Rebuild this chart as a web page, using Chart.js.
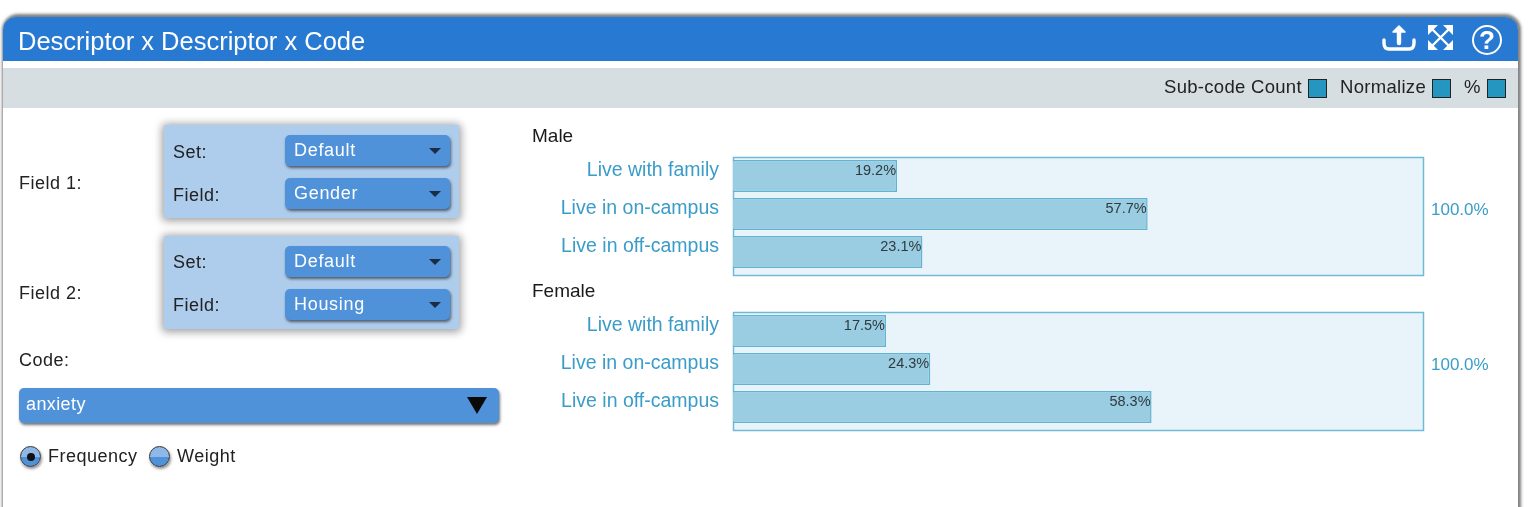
<!DOCTYPE html>
<html><head><meta charset="utf-8">
<script src="https://cdn.jsdelivr.net/npm/chart.js@4"></script>
<style>
html,body{margin:0;padding:0;background:#fff;overflow:hidden}
#page{position:relative;width:1536px;height:507px;overflow:hidden;font-family:"Liberation Sans",Arial,sans-serif;color:#222;filter:blur(.45px)}
#page div,#page span{position:absolute;white-space:nowrap}
#panel{left:3px;top:17px;width:1515px;height:520px;border-radius:14px 14px 0 0;background:#fff;box-shadow:1px -1px 3px 2px rgba(0,0,0,.5)}
#head{left:3px;top:17px;width:1515px;height:44px;background:#2779d2;border-radius:13px 13px 0 0}
#band{left:3px;top:68px;width:1515px;height:40px;background:#d6dee1}
.title{left:18px;top:27px;font-size:25.5px;line-height:29px;color:#fff}
.bar{font-size:18.5px;line-height:20px;color:#222;letter-spacing:.3px}
.cb{width:19px;height:19px;background:#2496bf;border:1.5px solid #222;box-sizing:border-box;top:79px}
.box{left:164px;width:295px;height:93px;background:#aeccec;border-radius:2px;box-shadow:0 1px 8px 2px rgba(0,0,0,.38)}
.dd{left:285px;width:165px;height:31px;background:#4f92da;border-radius:5px;box-shadow:1px 2px 3px rgba(0,0,0,.55);color:#fff;font-size:18px;line-height:31px;text-indent:9px;letter-spacing:.7px}
.tri{width:0;height:0;border-left:6px solid transparent;border-right:6px solid transparent;border-top:6px solid #1c2c44;left:429px}
.lb{font-size:18px;line-height:22px;color:#222;letter-spacing:.5px}
.radio{width:21px;height:21px;border-radius:50%;border:1.5px solid #333;box-sizing:border-box;box-shadow:1px 2px 3px rgba(0,0,0,.45);top:446px}
canvas{display:block}
.cw{left:532px;width:968px;height:150px}
</style></head>
<body>
<div id="page">
  <div id="panel"></div>
  <div id="head"></div>
  <div id="band"></div>
  <div class="title">Descriptor x Descriptor x Code</div>
  <svg style="position:absolute;left:1380px;top:22px" width="125" height="34" viewBox="0 0 125 34">
    <g fill="none" stroke="#fff" stroke-width="3.4" stroke-linecap="round" stroke-linejoin="round">
      <path d="M4 18v3q0 6 5 6h20q5 0 5-6v-3"/>
      <path d="M19 21V8" stroke-width="4.4"/>
      <path d="M13 10l6-6 6 6z" fill="#fff" stroke-width="1.6"/>
      <path d="M52 7l17 17M69 7L52 24" stroke-width="2.4"/>
    </g>
    <g fill="#fff">
      <path d="M48 3h10l-10 10zM73 3h-10l10 10zM48 28h10l-10-10zM73 28h-10l10-10z"/>
    </g>
    <circle cx="107" cy="18" r="14" fill="none" stroke="#fff" stroke-width="2"/>
    <text x="107" y="27" text-anchor="middle" font-family="Liberation Sans" font-weight="700" font-size="26" fill="#fff">?</text>
  </svg>
  <div class="bar" style="left:1164px;top:77px">Sub-code Count</div><div class="cb" style="left:1308px"></div>
  <div class="bar" style="left:1340px;top:77px">Normalize</div><div class="cb" style="left:1432px"></div>
  <div class="bar" style="left:1464px;top:77px">%</div><div class="cb" style="left:1487px"></div>

  <div class="lb" style="left:19px;top:172px">Field 1:</div>
  <div class="box" style="top:125px"></div>
  <div class="lb" style="left:173px;top:141px">Set:</div>
  <div class="lb" style="left:173px;top:184px">Field:</div>
  <div class="dd" style="top:135px">Default</div><div class="tri" style="top:148px"></div>
  <div class="dd" style="top:178px">Gender</div><div class="tri" style="top:191px"></div>

  <div class="lb" style="left:19px;top:282px">Field 2:</div>
  <div class="box" style="top:236px"></div>
  <div class="lb" style="left:173px;top:251px">Set:</div>
  <div class="lb" style="left:173px;top:294px">Field:</div>
  <div class="dd" style="top:246px">Default</div><div class="tri" style="top:259px"></div>
  <div class="dd" style="top:289px">Housing</div><div class="tri" style="top:302px"></div>

  <div class="lb" style="left:19px;top:349px">Code:</div>
  <div class="dd" style="left:19px;top:388px;width:480px;height:35px;line-height:32px;text-indent:7px;letter-spacing:.4px">anxiety</div>
  <div style="left:467px;top:397px;width:0;height:0;border-left:10px solid transparent;border-right:10px solid transparent;border-top:17px solid #0a0a0a"></div>
  <div class="radio" style="left:20px;background:linear-gradient(#8fb8e6 50%,#4f92da 50%)"></div>
  <div style="left:26.5px;top:452.5px;width:8px;height:8px;border-radius:50%;background:#111"></div>
  <div class="lb" style="left:48px;top:445px">Frequency</div>
  <div class="radio" style="left:149px;background:linear-gradient(#8fb8e6 50%,#4f92da 50%)"></div>
  <div class="lb" style="left:177px;top:445px">Weight</div>

  <div class="cw" style="top:127px"><canvas id="male" width="968" height="150"></canvas></div>
  <div class="cw" style="top:282px"><canvas id="female" width="968" height="150"></canvas></div>
</div>
<script>
const categories = ["Live with family", "Live in on-campus", "Live in off-campus"];
const maleValues = [19.2, 57.7, 23.1];
const femaleValues = [17.5, 24.3, 58.3];
const maleTotal = "100.0%";
const femaleTotal = "100.0%";
const axisMin = -6;
const axisMax = 100;

const frame = {
  id: "frame",
  beforeDatasetsDraw(c) {
    const a = c.chartArea, g = c.ctx;
    g.save();
    g.fillStyle = "#e8f4fa";
    g.strokeStyle = "#6fbad8";
    g.lineWidth = 1.5;
    g.beginPath();
    g.rect(a.left + 0.5, a.top + 0.5, a.right - a.left, a.bottom - a.top + 4);
    g.fill();
    g.stroke();
    g.restore();
  },
  afterDatasetsDraw(c, args, o) {
    const g = c.ctx, x = c.scales.x, y = c.scales.y, vals = c.data.datasets[0].data;
    g.save();
    g.font = "14.5px 'Liberation Sans'";
    g.fillStyle = "#2f3a40";
    g.textAlign = "right";
    g.textBaseline = "middle";
    vals.forEach((v, i) => g.fillText(v.toFixed(1) + "%", x.getPixelForValue(v) - 1, y.getPixelForValue(i) - 5));
    g.font = "17px 'Liberation Sans'";
    g.fillStyle = "#3a9cc8";
    g.textAlign = "left";
    g.fillText(o.total, c.chartArea.right + 8, y.getPixelForValue(1) - 4);
    g.restore();
  }
};

function draw(id, name, values, total) {
  new Chart(document.getElementById(id), {
    type: "bar",
    plugins: [frame],
    data: {
      labels: categories,
      datasets: [{
        data: values,
        base: axisMin,
        backgroundColor: "#9acde1",
        borderColor: "#62b2d2",
        borderWidth: 1.5,
        barPercentage: 0.84,
        categoryPercentage: 1
      }]
    },
    options: {
      indexAxis: "y",
      responsive: false,
      animation: false,
      layout: { padding: { left: 0, right: 77, top: 0, bottom: 6 } },
      plugins: {
        legend: { display: false },
        tooltip: { enabled: false },
        frame: { total },
        title: {
          display: true, text: name, align: "start", color: "#1a1a1a",
          font: { family: "Liberation Sans", size: 19, weight: "normal", lineHeight: 1 },
          padding: { top: 0, bottom: 11 }
        }
      },
      scales: {
        x: { display: false, min: axisMin, max: axisMax },
        y: {
          afterFit(s) { s.width = 201; s.paddingTop = 0; s.paddingBottom = 0; },
          grid: { display: false, drawTicks: false },
          border: { display: false },
          ticks: {
            color: "#3a9cc8", padding: 14, labelOffset: -5,
            font: { family: "Liberation Sans", size: 19.5 }
          }
        }
      }
    }
  });
}
draw("male", "Male", maleValues, maleTotal);
draw("female", "Female", femaleValues, femaleTotal);
</script>
</body></html>
